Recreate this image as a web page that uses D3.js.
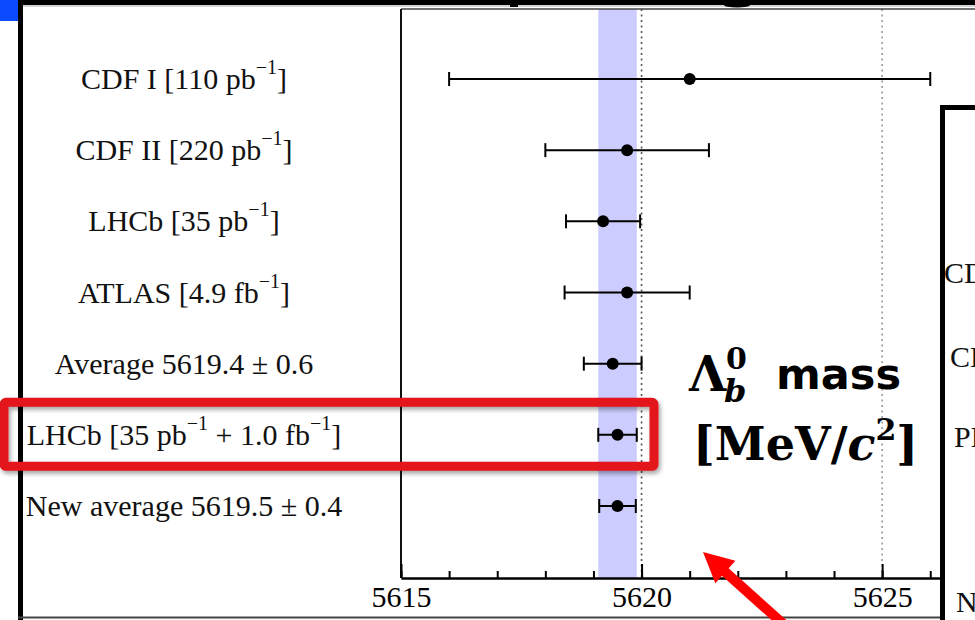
<!DOCTYPE html>
<html>
<head>
<meta charset="utf-8">
<script src="https://cdn.jsdelivr.net/npm/d3@7"></script>
<style>
  body { margin: 0; background: #fff; }
  svg { display: block; }
</style>
</head>
<body>
<script>
// measurements of the Lambda_b mass, one row each
var rowLabels = [
    "CDF I [110 pb^{−1}]",
    "CDF II [220 pb^{−1}]",
    "LHCb [35 pb^{−1}]",
    "ATLAS [4.9 fb^{−1}]",
    "Average 5619.4 ± 0.6",
    "LHCb [35 pb^{−1} + 1.0 fb^{−1}]",
    "New average 5619.5 ± 0.4"
];
var masses = [5621.0, 5619.7, 5619.2, 5619.7, 5619.4, 5619.5, 5619.5];
var errors = [5.0, 1.7, 0.77, 1.3, 0.6, 0.4, 0.38];

var majorTicks = [5615, 5620, 5625];
var minorTicks = [5615, 5616, 5617, 5618, 5619, 5620, 5621, 5622, 5623, 5624, 5625, 5626];
var gridLines = [5620, 5625];
var band = [5619.1, 5619.9];   // new average +- 0.4

// labels of the second chart peeking in on the right (only their first letters show)
var sideLabels = ["CD", "CD", "PD", "N"];

window.onload = function(){
    var w = 975, h = 620;
    var plotLeft = 401, plotTop = 9, axisY = 578;

    var svg = d3.select("body").append("svg")
        .attr("width", w)
        .attr("height", h);

    var defs = svg.append("defs");
    var shadow = defs.append("filter").attr("id", "shadow")
        .attr("x", "-5%").attr("y", "-30%").attr("width", "110%").attr("height", "160%");
    shadow.append("feDropShadow")
        .attr("dx", 2).attr("dy", 3).attr("stdDeviation", 2)
        .attr("flood-color", "#000").attr("flood-opacity", 0.35);
    defs.append("clipPath").attr("id", "panelClip")
        .append("rect").attr("x", 945).attr("y", 110).attr("width", 30).attr("height", 510);

    var x = d3.scaleLinear()   // 5615 at 401, 5625 at 882
        .domain([5615, 5626.93])
        .range([plotLeft, w]);

    var y = d3.scalePoint()
        .domain(d3.range(rowLabels.length))
        .range([79, 506]);

    // slide frame bits
    svg.append("rect").attr("x", 0).attr("y", 0).attr("width", 18).attr("height", 21).style("fill", "#0a4bff");
    svg.append("rect").attr("x", 18).attr("y", 0).attr("width", w - 18).attr("height", 5).style("fill", "#000");
    svg.append("line").attr("x1", 23).attr("x2", w).attr("y1", 6).attr("y2", 6)
        .style("stroke", "#aaa").style("stroke-width", 1);
    svg.append("rect").attr("x", 510).attr("y", 4).attr("width", 8).attr("height", 3).style("fill", "#000");
    svg.append("ellipse").attr("cx", 737).attr("cy", 5).attr("rx", 13).attr("ry", 2.5).style("fill", "#000");
    svg.append("rect").attr("x", 18).attr("y", 0).attr("width", 5).attr("height", h).style("fill", "#000");
    svg.append("line").attr("x1", 18).attr("x2", 945).attr("y1", 617.5).attr("y2", 617.5)
        .style("stroke", "#444").style("stroke-width", 2);

    // uncertainty band of the new average
    svg.append("rect")
        .attr("x", x(band[0]))
        .attr("y", plotTop)
        .attr("width", x(band[1]) - x(band[0]))
        .attr("height", axisY - plotTop)
        .style("fill", "#ccccff");

    // dotted grid lines
    svg.selectAll(".grid")
        .data(gridLines)
        .enter()
        .append("line")
        .attr("class", "grid")
        .attr("x1", function(d){ return x(d); })
        .attr("x2", function(d){ return x(d); })
        .attr("y1", plotTop)
        .attr("y2", axisY)
        .style("stroke", function(d, i){ return i == 0 ? "#555" : "#999"; })
        .style("stroke-width", 1.6)
        .style("stroke-dasharray", "2,3.5");

    // plot frame
    svg.append("line").attr("x1", plotLeft).attr("x2", w).attr("y1", plotTop).attr("y2", plotTop)
        .style("stroke", "#444").style("stroke-width", 1.5);
    svg.append("line").attr("x1", plotLeft).attr("x2", plotLeft).attr("y1", plotTop).attr("y2", axisY)
        .style("stroke", "#111").style("stroke-width", 2);

    // axis: minor ticks then major ticks with labels
    var minorAxis = d3.axisBottom(x).tickValues(minorTicks).tickSizeInner(-7).tickSizeOuter(0).tickFormat("");
    var majorAxis = d3.axisBottom(x).tickValues(majorTicks).tickSizeInner(-14).tickSizeOuter(0)
        .tickPadding(8).tickFormat(d3.format("d"));

    svg.append("g").attr("class", "axis")
        .attr("transform", "translate(0," + axisY + ")")
        .call(minorAxis);
    var gMajor = svg.append("g").attr("class", "axis")
        .attr("transform", "translate(0," + axisY + ")")
        .call(majorAxis)
        .attr("font-family", "Liberation Serif")
        .attr("font-size", 30);
    svg.selectAll(".axis path").style("stroke", "#000").style("stroke-width", 2);
    svg.selectAll(".axis line").style("stroke", "#000").style("stroke-width", 2);
    gMajor.selectAll("text")
        .style("font-family", "'Liberation Serif', 'Times New Roman', serif")
        .style("font-size", "30px")
        .style("fill", "#000");

    // error bars
    var bars = svg.selectAll(".bar")
        .data(masses)
        .enter()
        .append("g")
        .attr("class", "bar")
        .attr("transform", function(d, i){ return "translate(0," + y(i) + ")"; });

    bars.append("line")
        .attr("x1", function(d, i){ return x(d - errors[i]); })
        .attr("x2", function(d, i){ return x(d + errors[i]); })
        .style("stroke", "#000").style("stroke-width", 2);
    bars.append("line")   // left cap
        .attr("x1", function(d, i){ return x(d - errors[i]); })
        .attr("x2", function(d, i){ return x(d - errors[i]); })
        .attr("y1", -7).attr("y2", 7)
        .style("stroke", "#000").style("stroke-width", 2);
    bars.append("line")   // right cap
        .attr("x1", function(d, i){ return x(d + errors[i]); })
        .attr("x2", function(d, i){ return x(d + errors[i]); })
        .attr("y1", -7).attr("y2", 7)
        .style("stroke", "#000").style("stroke-width", 2);
    bars.append("circle")
        .attr("cx", function(d){ return x(d); })
        .attr("r", 6)
        .style("fill", "#000");

    // row labels, ^{...} becomes a superscript
    var labels = svg.selectAll(".label")
        .data(rowLabels)
        .enter()
        .append("text")
        .attr("class", "label")
        .attr("x", 184)
        .attr("y", function(d, i){ return y(i) + 10; })
        .attr("text-anchor", "middle")
        .style("font-family", "'Liberation Serif', serif")
        .style("font-size", "30px")
        .style("fill", "#111");

    labels.each(function(d){
        var t = d3.select(this);
        var parts = d.split(/(\^\{[^}]*\})/);
        var raised = false;
        parts.forEach(function(p){
            if (p === "") return;
            if (p.indexOf("^{") === 0) {
                t.append("tspan").attr("dy", -15).style("font-size", "20px")
                    .text(p.slice(2, -1));
                raised = true;
            } else {
                t.append("tspan").attr("dy", raised ? 15 : 0).text(p);
                raised = false;
            }
        });
    });

    // red highlight box around the new LHCb row
    svg.append("rect")
        .attr("x", 4)
        .attr("y", y(5) - 32.5)
        .attr("width", 650)
        .attr("height", 64)
        .attr("rx", 2)
        .style("fill", "none")
        .style("stroke", "#e3141b")
        .style("stroke-width", 9)
        .attr("filter", "url(#shadow)");

    // big annotation: Lambda_b^0 mass [MeV/c^2]
    var serif = "'DejaVu Serif', serif";
    var lam = svg.append("text").attr("x", 689).attr("y", 391)
        .style("font-family", serif).style("font-weight", "bold").style("font-size", "48px");
    lam.append("tspan").text("Λ");
    lam.append("tspan").attr("x", 726).attr("dy", -22).style("font-size", "30px").text("0");
    lam.append("tspan").attr("x", 724).attr("dy", 33).style("font-size", "32px")
        .style("font-style", "italic").text("b");
    svg.append("text").attr("x", 776).attr("y", 389)
        .style("font-family", "'DejaVu Sans', sans-serif").style("font-weight", "bold").style("font-size", "43px")
        .text("mass");
    var unit = svg.append("text").attr("x", 693).attr("y", 460)
        .style("font-family", serif).style("font-weight", "bold").style("font-size", "46px");
    unit.append("tspan").text("[MeV/");
    unit.append("tspan").style("font-style", "italic").text("c");
    unit.append("tspan").attr("dy", -20).style("font-size", "30px").text("2");
    unit.append("tspan").attr("dy", 20).text("]");

    // red arrow pointing at the plot
    var tip = [703, 552], tail = [790, 630];
    var dx = tip[0] - tail[0], dy = tip[1] - tail[1];
    var len = Math.sqrt(dx * dx + dy * dy), ux = dx / len, uy = dy / len;
    var headLen = 30, headHalf = 15;
    var base = [tip[0] - ux * headLen, tip[1] - uy * headLen];
    svg.append("line")
        .attr("x1", tail[0]).attr("y1", tail[1])
        .attr("x2", base[0] + ux * 2).attr("y2", base[1] + uy * 2)
        .style("stroke", "#ff0000").style("stroke-width", 10);
    svg.append("path")
        .attr("d", d3.line()([
            tip,
            [base[0] - uy * headHalf, base[1] + ux * headHalf],
            [base[0] + uy * headHalf, base[1] - ux * headHalf]
        ]) + "Z")
        .style("fill", "#ff0000");

    // second chart panel cut off on the right
    svg.append("rect")
        .attr("x", 942.5).attr("y", 107.5)
        .attr("width", 80).attr("height", 560)
        .style("fill", "#fff").style("stroke", "#000").style("stroke-width", 5);
    svg.append("g").attr("clip-path", "url(#panelClip)")
        .selectAll(".side")
        .data(sideLabels)
        .enter()
        .append("text")
        .attr("class", "side")
        .attr("x", function(d, i){ return [944, 950, 954, 956][i]; })
        .attr("y", function(d, i){ return [283, 367, 447, 612][i]; })
        .style("font-family", "'Liberation Serif', serif")
        .style("font-size", "30px")
        .style("fill", "#111")
        .text(function(d){ return d; });
};
</script>
</body>
</html>
